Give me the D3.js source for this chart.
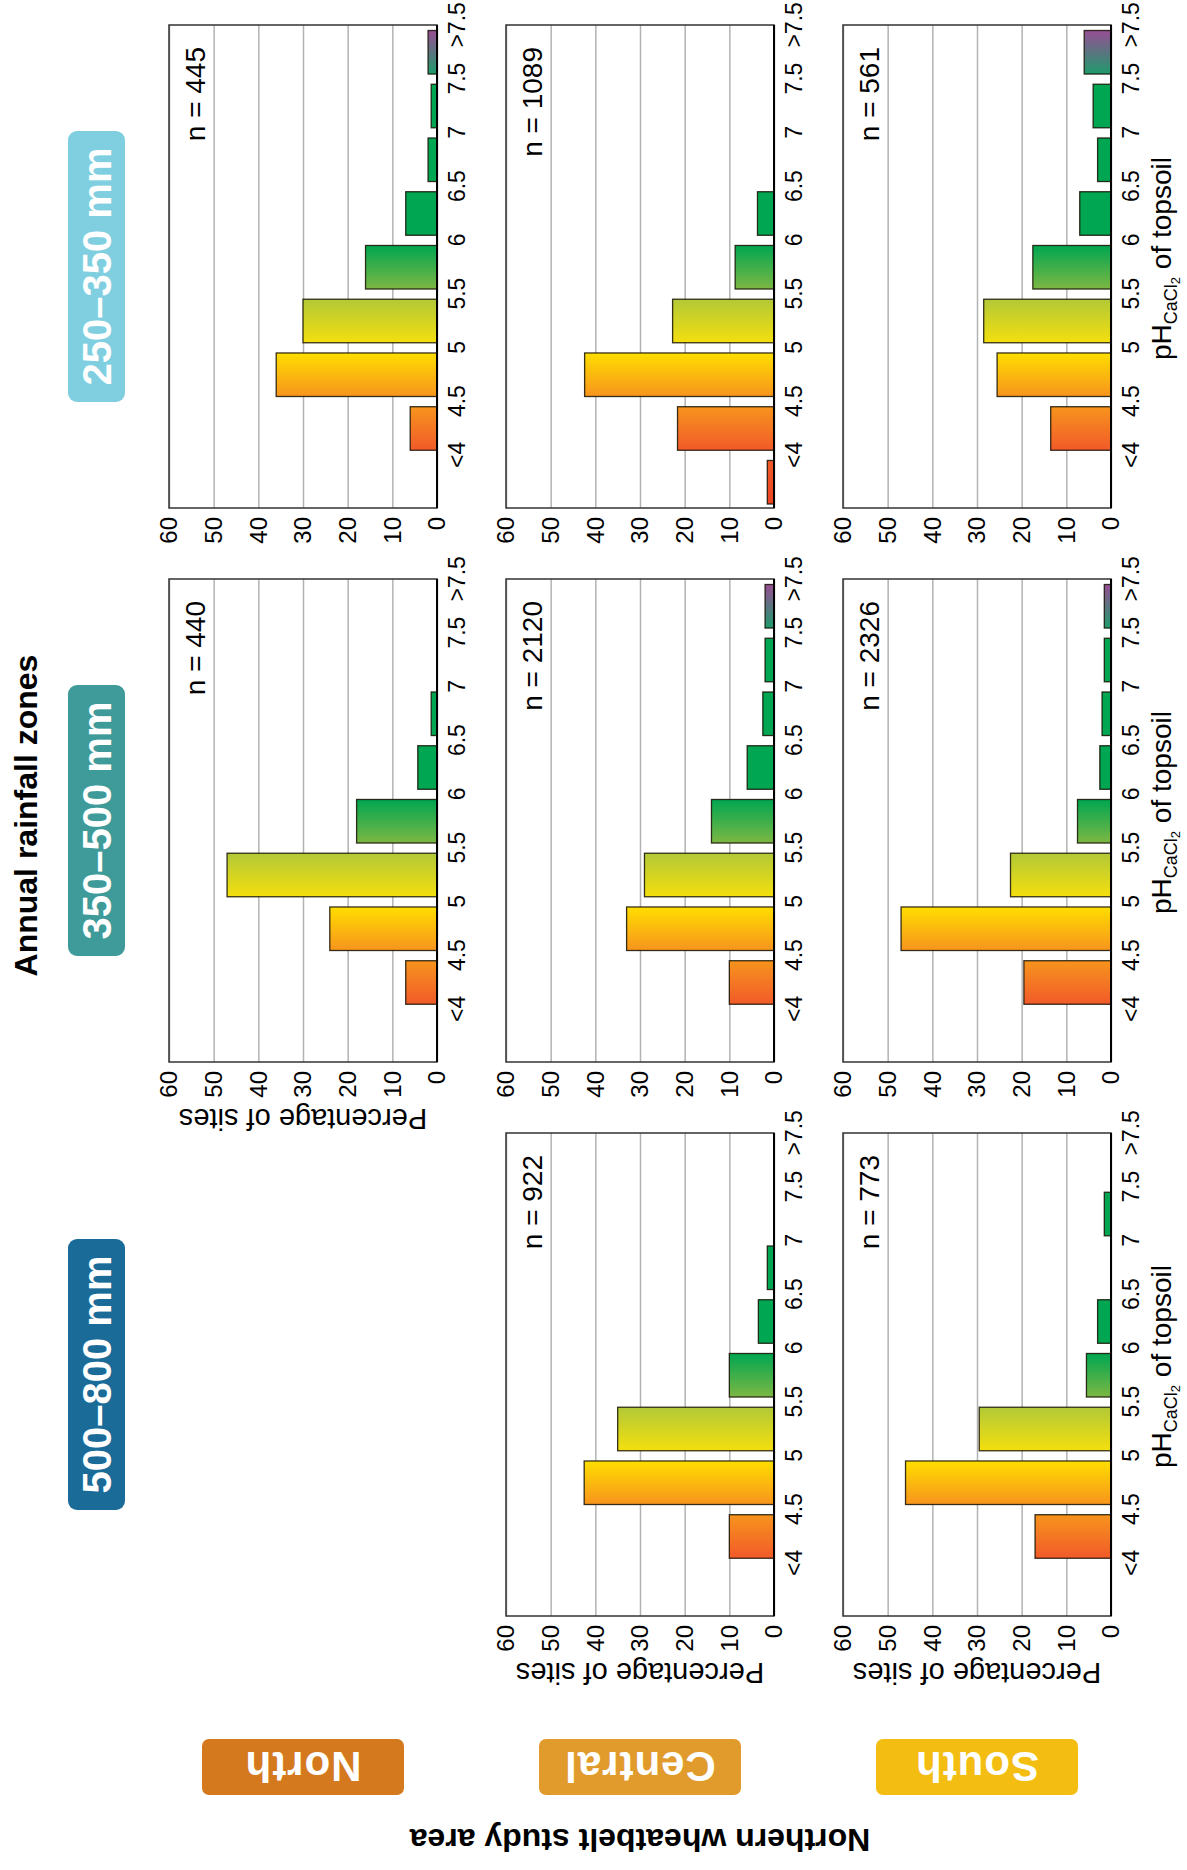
<!DOCTYPE html>
<html>
<head>
<meta charset="utf-8">
<script src="https://cdn.jsdelivr.net/npm/d3@7"></script>
<style>
  body { margin: 0; background: #fff; }
  text { font-family: "Liberation Sans", Arial, Helvetica, sans-serif; }
</style>
</head>
<body>
<div id="chart"></div>
<script>
// pH bins, the label sits at the upper edge of each bin
var bins = ["<4", "4.5", "5", "5.5", "6", "6.5", "7", "7.5", ">7.5"];
var zones = ["500–800 mm", "350–500 mm", "250–350 mm"];
var regions = ["North", "Central", "South"];
var percentTicks = [0, 10, 20, 30, 40, 50, 60];

// percentage of sites per bin
var north_350_500   = [0, 7, 24, 47, 18, 4.3, 1.3, 0, 0];
var north_250_350   = [0, 6, 36, 30, 16, 7, 2, 1.3, 2];
var central_500_800 = [0, 10, 42.5, 35, 10, 3.5, 1.5, 0, 0];
var central_350_500 = [0, 10, 33, 29, 14, 6, 2.5, 2, 2];
var central_250_350 = [1.5, 21.6, 42.4, 22.7, 8.7, 3.7, 0, 0, 0];
var south_500_800   = [0, 17, 46, 29.5, 5.5, 3, 0, 1.5, 0];
var south_350_500   = [0, 19.5, 47, 22.5, 7.5, 2.5, 2, 1.5, 1.5];
var south_250_350   = [0, 13.5, 25.5, 28.5, 17.5, 7, 3, 4, 6];

var sampleSizes = {
  "North": [null, 440, 445],
  "Central": [922, 2120, 1089],
  "South": [773, 2326, 561]
};
var values = {
  "North": [null, north_350_500, north_250_350],
  "Central": [central_500_800, central_350_500, central_250_350],
  "South": [south_500_800, south_350_500, south_250_350]
};

var zoneColors = ["#1b6b99", "#3f9b9a", "#80cfe0"];
var regionColors = ["#d4791e", "#e19b2d", "#f4bd12"];
// colour at the low and high end of each bin
var binColors = [
  ["#ec4423", "#f05a28"],
  ["#f15a29", "#f7941d"],
  ["#f7941d", "#ffde00"],
  ["#f4df0e", "#b2c937"],
  ["#7cb743", "#00a651"],
  ["#00a651", "#00a651"],
  ["#00a651", "#00a651"],
  ["#00a651", "#00a651"],
  ["#1f9b6c", "#974e94"]
];

// the figure is laid out landscape and then turned a quarter to the left
var W = 1870, H = 1187;
var pw = 483, ph = 268;
var colX = [254, 808, 1362];
var rowY = [169, 506, 843];

var svg = d3.select("#chart")
  .append("svg")
    .attr("width", H)
    .attr("height", W);

var defs = svg.append("defs");
binColors.forEach(function(c, i) {
  var lg = defs.append("linearGradient")
    .attr("id", "bin" + i)
    .attr("x1", 0).attr("y1", 0).attr("x2", 1).attr("y2", 0);
  lg.append("stop").attr("offset", "0%").attr("stop-color", c[0]);
  lg.append("stop").attr("offset", "100%").attr("stop-color", c[1]);
});

var g = svg.append("g")
  .attr("transform", "translate(0," + W + ") rotate(-90)");

var x = d3.scaleBand()
  .domain(bins)
  .range([4, pw - 5.5])
  .paddingInner(0.19);

var y = d3.scaleLinear()
  .domain([0, 60])
  .range([ph, 0]);

var labelPos = d3.scaleOrdinal()
  .domain(bins)
  .range(bins.map(function(b) {
    return x(b) + x.bandwidth() + (x.step() - x.bandwidth()) / 2;
  }));

// title
g.append("text")
  .attr("x", colX[1] + pw / 2 + 5)
  .attr("y", 26)
  .attr("dy", "0.35em")
  .attr("text-anchor", "middle")
  .style("font-size", "32px")
  .style("font-weight", "bold")
  .text("Annual rainfall zones");

// zone headers
zones.forEach(function(z, i) {
  g.append("rect")
    .attr("x", colX[i] + (pw - 271) / 2)
    .attr("y", 68)
    .attr("width", 271)
    .attr("height", 57)
    .attr("rx", 9)
    .attr("fill", zoneColors[i]);
  g.append("text")
    .attr("x", colX[i] + pw / 2)
    .attr("y", 97)
    .attr("dy", "0.35em")
    .attr("text-anchor", "middle")
    .style("font-size", "40px")
    .style("font-weight", "bold")
    .style("fill", "white")
    .text(z);
});

// region labels
g.append("text")
  .attr("transform", "translate(30," + (rowY[1] + ph / 2) + ") rotate(-90)")
  .attr("dy", "0.35em")
  .attr("text-anchor", "middle")
  .style("font-size", "32px")
  .style("font-weight", "bold")
  .text("Northern wheatbelt study area");

regions.forEach(function(r, i) {
  g.append("rect")
    .attr("x", 75)
    .attr("y", rowY[i] + (ph - 202) / 2)
    .attr("width", 56)
    .attr("height", 202)
    .attr("rx", 7)
    .attr("fill", regionColors[i]);
  g.append("text")
    .attr("transform", "translate(103," + (rowY[i] + ph / 2) + ") rotate(-90)")
    .attr("dy", "0.35em")
    .attr("text-anchor", "middle")
    .style("font-size", "42px")
    .style("font-weight", "bold")
    .style("fill", "white")
    .style("letter-spacing", "1px")
    .text(r);
});

// panels
regions.forEach(function(r, ri) {
  var first = true;
  zones.forEach(function(z, zi) {
    var data = values[r][zi];
    if (!data) return;
    var gp = g.append("g")
      .attr("transform", "translate(" + colX[zi] + "," + rowY[ri] + ")");

    // grid + percent labels
    var yAxis = gp.append("g")
      .call(d3.axisLeft(y).tickValues(percentTicks).tickSize(-pw).tickPadding(9));
    yAxis.select(".domain").remove();
    yAxis.selectAll(".tick line").attr("stroke", "#b3b3b3").attr("stroke-width", 1.5);
    yAxis.selectAll(".tick text")
      .style("font-family", "'Liberation Sans Narrow', 'Arial Narrow', sans-serif")
      .style("font-size", "24px")
      .attr("fill", "#000");

    gp.append("rect")
      .attr("width", pw)
      .attr("height", ph)
      .attr("fill", "none")
      .attr("stroke", "#333")
      .attr("stroke-width", 1.5);

    gp.selectAll("rect.bar")
      .data(data.map(function(v, i) { return {bin: bins[i], i: i, v: v}; }).filter(function(d) { return d.v > 0; }))
      .enter()
      .append("rect")
        .attr("class", "bar")
        .attr("x", function(d) { return x(d.bin); })
        .attr("y", function(d) { return y(d.v); })
        .attr("width", x.bandwidth())
        .attr("height", function(d) { return ph - y(d.v); })
        .attr("fill", function(d) { return "url(#bin" + d.i + ")"; })
        .attr("stroke", "rgba(20,15,0,0.85)")
        .attr("stroke-width", 1.3);

    gp.append("line")
      .attr("x1", 0).attr("x2", pw)
      .attr("y1", ph).attr("y2", ph)
      .attr("stroke", "#000")
      .attr("stroke-width", 2);

    // pH labels
    var xAxis = gp.append("g")
      .attr("transform", "translate(0," + ph + ")")
      .call(d3.axisBottom(labelPos).tickSize(0).tickPadding(12));
    xAxis.select(".domain").remove();
    xAxis.selectAll(".tick text")
      .style("font-family", "'Liberation Sans Narrow', 'Arial Narrow', sans-serif")
      .style("font-size", "23px")
      .attr("fill", "#000");

    // sample size
    gp.append("text")
      .attr("x", pw - 22)
      .attr("y", 36)
      .attr("text-anchor", "end")
      .style("font-size", "28px")
      .text("n = " + sampleSizes[r][zi]);

    if (first) {
      gp.append("text")
        .attr("transform", "translate(-57," + ph / 2 + ") rotate(-90)")
        .attr("dy", "0.35em")
        .attr("text-anchor", "middle")
        .style("font-size", "29px")
        .text("Percentage of sites");
      first = false;
    }

    if (r == "South") {
      var t = gp.append("text")
        .attr("x", pw / 2 + 8)
        .attr("y", ph + 60)
        .attr("text-anchor", "middle")
        .style("font-size", "28px");
      t.append("tspan").text("pH");
      t.append("tspan").attr("dy", 6).style("font-size", "18px").text("CaCl");
      t.append("tspan").attr("dy", 3).style("font-size", "13px").text("2");
      t.append("tspan").attr("dy", -9).text(" of topsoil");
    }
  });
});
</script>
</body>
</html>
